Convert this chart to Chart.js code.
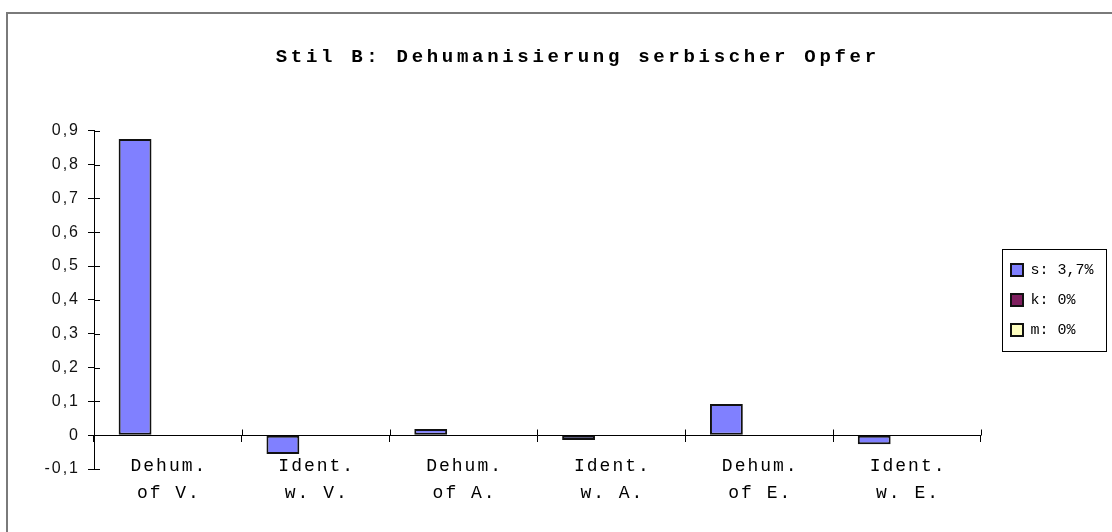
<!DOCTYPE html>
<html>
<head>
<meta charset="utf-8">
<script src="https://cdn.jsdelivr.net/npm/chart.js@4/dist/chart.umd.min.js"></script>
<style>
  html, body { margin: 0; padding: 0; background: #fff; }
  #wrap { width: 1112px; height: 532px; }
</style>
</head>
<body>
<div id="wrap"><canvas id="c" width="1112" height="532"></canvas></div>
<script>
const titleText = "Stil B: Dehumanisierung serbischer Opfer";
const categories = [
  ["Dehum.", "of V."],
  ["Ident.", "w. V."],
  ["Dehum.", "of A."],
  ["Ident.", "w. A."],
  ["Dehum.", "of E."],
  ["Ident.", "w. E."]
];
const seriesNames = ["s: 3,7%", "k: 0%", "m: 0%"];
const valuesS = [0.876, -0.056, 0.018, -0.014, 0.092, -0.027];
const valuesK = [0, 0, 0, 0, 0, 0];
const valuesM = [0, 0, 0, 0, 0, 0];
const yMin = -0.1, yMax = 0.9, yStep = 0.1;

const colors = ["#8080FF", "#7F1F5F", "#FFFFC0"];

const PAD_R = 8.5;
const TITLE_SHIFT = 26;

const legendPlacePlugin = {
  id: 'legendPlace',
  afterLayout(chart) {
    const lg = chart.legend, ca = chart.chartArea;
    if (!lg || !ca) return;
    lg.top = ca.top;
    lg.bottom = ca.bottom;
    lg.height = ca.bottom - ca.top;
  }
};

const spacingPlugin = {
  id: 'spacing',
  beforeDraw(chart) {
    if (chart.$wrapped) return;
    chart.$wrapped = true;
    const wrap = (obj, method, sp, dx) => {
      if (!obj || !obj[method]) return;
      const orig = obj[method].bind(obj);
      obj[method] = function (...args) {
        const ctx = chart.ctx;
        ctx.save();
        ctx.letterSpacing = sp;
        if (dx) ctx.translate(dx, 0);
        orig(...args);
        ctx.restore();
      };
    };
    wrap(chart.titleBlock, 'draw', '3.7px', TITLE_SHIFT);
    wrap(chart.scales.x, 'drawLabels', '2px', 1);
    wrap(chart.scales.y, 'drawLabels', '2px');
  }
};

const decorPlugin = {
  id: 'decor',
  afterDraw(chart) {
    const ctx = chart.ctx;
    const x = chart.scales.x, y = chart.scales.y;
    ctx.save();
    // outer frame
    ctx.strokeStyle = '#7a7a7a';
    ctx.lineWidth = 2;
    ctx.beginPath();
    ctx.moveTo(7, chart.height + 2);
    ctx.lineTo(7, 13);
    ctx.lineTo(chart.width + 2, 13);
    ctx.stroke();
    // crossing tick halves
    ctx.strokeStyle = '#000';
    ctx.lineWidth = 1;
    const y0 = Math.round(y.getPixelForValue(0)) + 0.5;
    const n = x.ticks.length;
    ctx.beginPath();
    for (let i = 1; i <= n; i++) {
      const px = i === n ? x.right : (x.getPixelForTick(i - 1) + x.getPixelForTick(i)) / 2;
      const rx = Math.round(px) + 0.5;
      ctx.moveTo(rx, y0 - 6);
      ctx.lineTo(rx, y0);
    }
    y.ticks.forEach((t, i) => {
      const py = Math.round(y.getPixelForTick(i)) + 0.5;
      ctx.moveTo(y.right, py);
      ctx.lineTo(y.right + 6, py);
    });
    ctx.stroke();
    // legend frame
    const lg = chart.legend;
    if (lg && lg.legendHitBoxes && lg.legendHitBoxes.length) {
      const hb = lg.legendHitBoxes;
      const l = hb[0].left - 9;
      const t = hb[0].top - 13;
      const last = hb[hb.length - 1];
      const b = last.top + last.height + 14;
      const r = lg.right + 2.5;
      ctx.strokeStyle = '#000';
      ctx.lineWidth = 1;
      ctx.strokeRect(Math.round(l) + 0.5, Math.round(t) + 0.5, Math.round(r - l), Math.round(b - t));
    }
    ctx.restore();
  }
};

const ds = (label, data, color) => ({
  label, data,
  backgroundColor: color,
  borderColor: '#111',
  borderWidth: 2,
  borderSkipped: false,
  categoryPercentage: 2 / 3,
  barPercentage: 1
});

Chart.defaults.color = '#000';
Chart.defaults.font.family = "'Liberation Mono', monospace";

new Chart(document.getElementById('c'), {
  type: 'bar',
  data: {
    labels: categories,
    datasets: [
      ds(seriesNames[0], valuesS, colors[0]),
      ds(seriesNames[1], valuesK, colors[1]),
      ds(seriesNames[2], valuesM, colors[2])
    ]
  },
  options: {
    responsive: false,
    animation: false,
    events: [],
    layout: { padding: { left: 0, right: PAD_R, top: 0, bottom: 63 } },
    plugins: {
      title: {
        display: true,
        text: titleText,
        font: { family: "'Liberation Mono', monospace", size: 19, weight: 'bold', lineHeight: 1.2 },
        color: '#000',
        padding: { top: 46, bottom: 62 }
      },
      legend: {
        display: true,
        position: 'right',
        align: 'center',
        labels: {
          boxWidth: 12,
          boxHeight: 12,
          padding: 15,
          color: '#000',
          font: { family: "'Liberation Mono', monospace", size: 15 }
        }
      },
      tooltip: { enabled: false }
    },
    scales: {
      x: {
        position: { y: 0 },
        grid: {
          display: true, drawOnChartArea: false, drawTicks: true,
          offset: true, tickLength: 6, color: '#000', lineWidth: 1
        },
        border: { display: true, color: '#000', width: 1 },
        ticks: {
          autoSkip: false, maxRotation: 0, minRotation: 0,
          padding: 12,
          color: '#000',
          font: { family: "'Liberation Mono', monospace", size: 18, lineHeight: 1.5 }
        }
      },
      y: {
        min: yMin, max: yMax,
        grid: {
          display: true, drawOnChartArea: false, drawTicks: true,
          tickLength: 6, color: '#000', lineWidth: 1
        },
        border: { display: true, color: '#000', width: 1 },
        ticks: {
          stepSize: yStep,
          padding: 8,
          color: '#111',
          font: { family: "'Liberation Sans', Arial, sans-serif", size: 16 },
          callback(v) {
            const r = Math.round(v * 10) / 10;
            if (r === 0) return '0';
            return r.toFixed(1).replace('.', ',');
          }
        },
        afterFit(scale) { scale.width = 94; }
      },
      gap: {
        type: 'linear',
        position: 'right',
        display: true,
        grid: { display: false, drawTicks: false },
        border: { display: false },
        ticks: { display: false },
        afterFit(scale) { scale.width = 15; }
      }
    }
  },
  plugins: [legendPlacePlugin, spacingPlugin, decorPlugin]
});
</script>
</body>
</html>
